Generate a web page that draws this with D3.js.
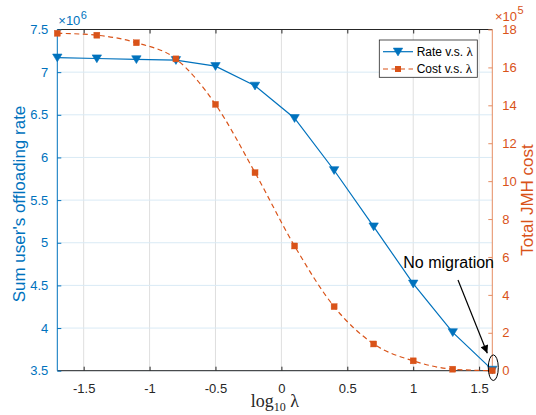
<!DOCTYPE html>
<html>
<head>
<meta charset="utf-8">
<script src="https://cdn.jsdelivr.net/npm/d3@7"></script>
<style>
  html, body { margin: 0; padding: 0; background: #fff; }
  svg { display: block; }
</style>
</head>
<body>
<script>
// ---- data ----
const logLambda = [-1.7, -1.4, -1.1, -0.8, -0.5, -0.2, 0.1, 0.4, 0.7, 1.0, 1.3, 1.6];
const rateValues = [7.17, 7.16, 7.15, 7.14, 7.07, 6.84, 6.46, 5.85, 5.19, 4.52, 3.95, 3.51]; // x10^6
const costValues = [17.8, 17.7, 17.3, 16.45, 14.05, 10.45, 6.58, 3.38, 1.41, 0.52, 0.08, 0.0]; // x10^5
const xTicks = [-1.5, -1, -0.5, 0, 0.5, 1, 1.5];
const xTickLabels = ["-1.5", "-1", "-0.5", "0", "0.5", "1", "1.5"];
const leftTicks = [3.5, 4, 4.5, 5, 5.5, 6, 6.5, 7, 7.5];
const leftTickLabels = ["3.5", "4", "4.5", "5", "5.5", "6", "6.5", "7", "7.5"];
const rightTicks = [0, 2, 4, 6, 8, 10, 12, 14, 16, 18];
const rightTickLabels = ["0", "2", "4", "6", "8", "10", "12", "14", "16", "18"];
const seriesNames = ["Rate v.s. ", "Cost v.s. "];

// ---- layout ----
const W = 536, H = 415;
const X0 = 57.3, X1 = 492.3, Y0 = 29.5, Y1 = 370.7;
const BLUE = "#0072BD", ORANGE = "#D95319", ORANGE_AX = "#E58C62", DARK = "#262626";
const SANS = "Liberation Sans, Arial, sans-serif";
const SERIF = "Liberation Serif, Times New Roman, serif";

const svg = d3.select("body").append("svg").attr("width", W).attr("height", H)
  .attr("font-family", SANS);
svg.append("rect").attr("width", W).attr("height", H).attr("fill", "#fff");

const x = d3.scaleLinear().domain([-1.7, 1.6]).range([X0, X1]);
const yL = d3.scaleLinear().domain([3.5, 7.5]).range([Y1, Y0]);
const yR = d3.scaleLinear().domain([0, 18]).range([Y1, Y0]);

// grid
const grid = svg.append("g");
grid.selectAll("line.v").data(xTicks).join("line")
  .attr("x1", d => x(d)).attr("x2", d => x(d)).attr("y1", Y0).attr("y2", Y1)
  .attr("stroke", "#dfdfdf").attr("stroke-width", 1);
grid.selectAll("line.h").data(leftTicks).join("line")
  .attr("x1", X0).attr("x2", X1).attr("y1", d => yL(d)).attr("y2", d => yL(d))
  .attr("stroke", "#d9eaf5").attr("stroke-width", 1);

// axes (d3 axis generators, ticks pointing inward)
const xAxisB = d3.axisBottom(x).tickValues(xTicks).tickFormat((d, i) => xTickLabels[i]).tickSizeInner(-4).tickSizeOuter(0).tickPadding(13);
const gxb = svg.append("g").attr("transform", `translate(0,${Y1})`).call(xAxisB);
gxb.select(".domain").attr("stroke", DARK).attr("d", `M${X0},0H${X1}`);
gxb.selectAll(".tick line").attr("stroke", DARK);
gxb.selectAll(".tick text").attr("fill", DARK).attr("font-size", 13).attr("font-family", SANS);

const xAxisT = d3.axisTop(x).tickValues(xTicks).tickFormat("").tickSizeInner(-4).tickSizeOuter(0);
const gxt = svg.append("g").attr("transform", `translate(0,${Y0})`).call(xAxisT);
gxt.select(".domain").attr("stroke", DARK).attr("d", `M${X0},0H${X1}`);
gxt.selectAll(".tick line").attr("stroke", DARK);

const yAxisL = d3.axisLeft(yL).tickValues(leftTicks).tickFormat((d, i) => leftTickLabels[i]).tickSizeInner(-4).tickSizeOuter(0).tickPadding(9);
const gyl = svg.append("g").attr("transform", `translate(${X0},0)`).call(yAxisL);
gyl.select(".domain").attr("stroke", BLUE).attr("d", `M0,${Y0}V${Y1}`);
gyl.selectAll(".tick line").attr("stroke", BLUE);
gyl.selectAll(".tick text").attr("fill", BLUE).attr("font-size", 13).attr("font-family", SANS);

const yAxisR = d3.axisRight(yR).tickValues(rightTicks).tickFormat((d, i) => rightTickLabels[i]).tickSizeInner(-4).tickSizeOuter(0).tickPadding(10);
const gyr = svg.append("g").attr("transform", `translate(${X1},0)`).call(yAxisR);
gyr.select(".domain").attr("stroke", ORANGE_AX).attr("d", `M0,${Y0}V${Y1}`);
gyr.selectAll(".tick line").attr("stroke", ORANGE_AX);
gyr.selectAll(".tick text").attr("fill", ORANGE).attr("font-size", 13).attr("font-family", SANS);

// exponent labels
const expL = svg.append("text").attr("x", 58.3).attr("y", 25).attr("fill", BLUE).attr("font-size", 13);
expL.append("tspan").text("×10");
expL.append("tspan").attr("font-size", 11).attr("dx", 0.5).attr("dy", -6).text("6");
const expR = svg.append("text").attr("x", 495).attr("y", 21).attr("fill", ORANGE).attr("font-size", 13);
expR.append("tspan").text("×10");
expR.append("tspan").attr("font-size", 11).attr("dx", 0.5).attr("dy", -7).text("5");

// lines
const rateData = logLambda.map((d, i) => [d, rateValues[i]]);
const costData = logLambda.map((d, i) => [d, costValues[i]]);

svg.append("path").datum(costData)
  .attr("d", d3.line().x(d => x(d[0])).y(d => yR(d[1])).curve(d3.curveMonotoneX))
  .attr("fill", "none").attr("stroke", ORANGE).attr("stroke-width", 1.2).attr("stroke-dasharray", "5,3.5");
svg.append("path").datum(rateData)
  .attr("d", d3.line().x(d => x(d[0])).y(d => yL(d[1])))
  .attr("fill", "none").attr("stroke", BLUE).attr("stroke-width", 1.2);

const tri = "M-4.7,-3.6L4.7,-3.6L0,4.2Z";
svg.selectAll("path.rm").data(rateData).join("path").attr("class", "rm")
  .attr("d", tri).attr("transform", d => `translate(${x(d[0])},${yL(d[1])})`)
  .attr("fill", BLUE).attr("stroke", BLUE).attr("stroke-width", 0.6);
svg.selectAll("rect.cm").data(costData).join("rect").attr("class", "cm")
  .attr("x", d => x(d[0]) - 3).attr("y", d => yR(d[1]) - 3).attr("width", 6).attr("height", 6)
  .attr("fill", ORANGE).attr("stroke", ORANGE).attr("stroke-width", 0.4);

// axis labels
svg.append("text").attr("transform", `translate(25,204) rotate(-90)`).attr("text-anchor", "middle")
  .attr("fill", BLUE).attr("font-size", 17).text("Sum user's offloading rate");
svg.append("text").attr("transform", `translate(533,200) rotate(-90)`).attr("text-anchor", "middle")
  .attr("fill", ORANGE).attr("font-size", 17).text("Total JMH cost");
const xl = svg.append("text").attr("x", (X0 + X1) / 2).attr("y", 407).attr("text-anchor", "middle")
  .attr("fill", DARK).attr("font-size", 18).attr("font-family", SERIF);
xl.append("tspan").text("log");
xl.append("tspan").attr("font-size", 12).attr("dy", 4).text("10");
xl.append("tspan").attr("dy", -4).text(" λ");

// legend
const lg = svg.append("g");
lg.append("rect").attr("x", 379.3).attr("y", 40).attr("width", 98).attr("height", 37.3)
  .attr("fill", "#fff").attr("stroke", DARK).attr("stroke-width", 0.8);
const rows = [51.7, 69];
lg.append("line").attr("x1", 383).attr("x2", 413).attr("y1", rows[0]).attr("y2", rows[0]).attr("stroke", BLUE).attr("stroke-width", 1.2);
lg.append("path").attr("d", tri).attr("transform", `translate(398,${rows[0]})`).attr("fill", BLUE).attr("stroke", BLUE).attr("stroke-width", 0.6);
lg.append("line").attr("x1", 383).attr("x2", 413).attr("y1", rows[1]).attr("y2", rows[1]).attr("stroke", ORANGE).attr("stroke-width", 1.2).attr("stroke-dasharray", "5,3.5");
lg.append("rect").attr("x", 395).attr("y", rows[1] - 3).attr("width", 6).attr("height", 6).attr("fill", ORANGE);
seriesNames.forEach((s, i) => {
  const t = lg.append("text").attr("x", 416.7).attr("y", rows[i] + 4.3).attr("font-size", 12).attr("fill", "#000");
  t.append("tspan").text(s);
  t.append("tspan").attr("font-family", SERIF).attr("font-size", 13).text("λ");
});

// annotation
svg.append("defs").append("marker").attr("id", "ah").attr("viewBox", "0 0 10 10")
  .attr("refX", 10).attr("refY", 5).attr("markerWidth", 10).attr("markerHeight", 8)
  .attr("markerUnits", "userSpaceOnUse").attr("orient", "auto")
  .append("path").attr("d", "M0,0L10,5L0,10Z").attr("fill", "#000");
svg.append("line").attr("x1", 458).attr("y1", 280).attr("x2", 487.3).attr("y2", 353.3)
  .attr("stroke", "#000").attr("stroke-width", 1.2).attr("marker-end", "url(#ah)");
svg.append("ellipse").attr("cx", x(1.6) + 1).attr("cy", 367.7).attr("rx", 5).attr("ry", 12.8)
  .attr("fill", "none").attr("stroke", "#000").attr("stroke-width", 1);
svg.append("text").attr("x", 403.3).attr("y", 268.3).attr("font-size", 16).attr("fill", "#000").text("No migration");
</script>
</body>
</html>
